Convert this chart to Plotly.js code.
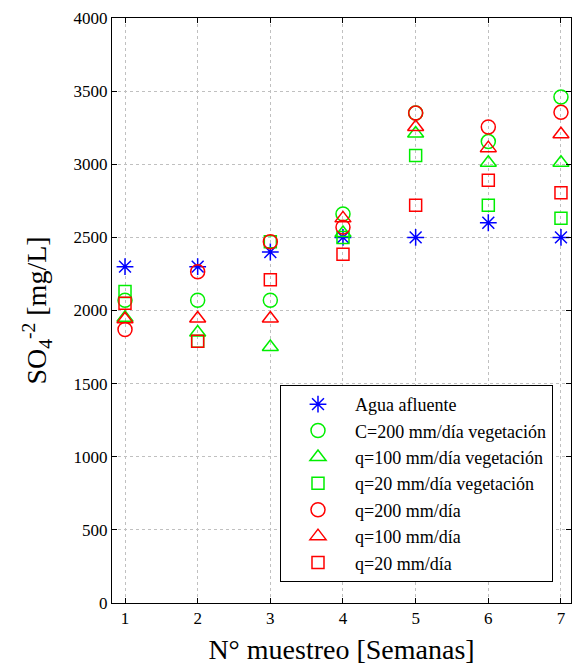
<!DOCTYPE html>
<html>
<head>
<meta charset="utf-8">
<script src="https://cdn.plot.ly/plotly-3.0.1.min.js"></script>
<style>html,body{margin:0;padding:0;background:#fff;}#chart{width:572px;height:665px;}</style>
</head>
<body>
<div id="chart"></div>
<script>
var weeks = [1, 2, 3, 4, 5, 6, 7];
var xTickLabels = ["1", "2", "3", "4", "5", "6", "7"];
var seriesNames = [
  "Agua afluente",
  "C=200 mm/día vegetación",
  "q=100 mm/día vegetación",
  "q=20 mm/día vegetación",
  "q=200 mm/día",
  "q=100 mm/día",
  "q=20 mm/día"
];
var aguaAfluente = [2300, 2300, 2400, 2500, 2500, 2600, 2500];
var c200Veg = [2070, 2070, 2070, 2660, 3350, 3155, 3460];
var q100Veg = [1950, 1850, 1750, 2530, 3210, 3010, 3010];
var q20Veg = [2130, 1790, 2470, 2500, 3060, 2720, 2630];
var q200 = [1870, 2265, 2470, 2570, 3350, 3255, 3355];
var q100 = [1940, 1945, 1945, 2630, 3255, 3110, 3205];
var q20 = [2050, 1790, 2210, 2385, 2720, 2890, 2805];

var seriesValues = [aguaAfluente, c200Veg, q100Veg, q20Veg, q200, q100, q20];
var symbols = ["asterisk-open", "circle-open", "triangle-up-open", "square-open", "circle-open", "triangle-up-open", "square-open"];
var colors = ["#0000ff", "#00ee00", "#00ee00", "#00ee00", "#ff0000", "#ff0000", "#ff0000"];
var sizes = [14, 14, 14, 12, 14, 14, 12];

var serif = "Liberation Serif";

var traces = seriesValues.map(function (vals, i) {
  return {
    x: weeks,
    y: vals,
    name: seriesNames[i],
    type: "scatter",
    mode: "markers",
    marker: {
      symbol: symbols[i],
      size: sizes[i],
      color: colors[i],
      line: {color: colors[i], width: 1.5}
    }
  };
});

var layout = {
  width: 572,
  height: 665,
  margin: {l: 112, r: 1, t: 18, b: 62},
  paper_bgcolor: "#ffffff",
  plot_bgcolor: "#ffffff",
  font: {family: serif, color: "#000", size: 16},
  showlegend: true,
  xaxis: {
    range: [0.821, 7.138],
    tickmode: "array",
    tickvals: weeks,
    ticktext: xTickLabels,
    ticks: "inside",
    ticklen: 5,
    tickcolor: "#000",
    showline: true,
    linecolor: "#000",
    linewidth: 1,
    mirror: "allticks",
    showgrid: true,
    gridcolor: "#c0c0c0",
    griddash: "dot",
    gridwidth: 1,
    zeroline: false,
    tickfont: {family: serif, size: 17, color: "#000"},
    title: {text: "N° muestreo [Semanas]", font: {family: serif, size: 28, color: "#000"}, standoff: 12}
  },
  yaxis: {
    range: [0, 4000],
    tickmode: "linear",
    tick0: 0,
    dtick: 500,
    ticks: "inside",
    ticklen: 5,
    tickcolor: "#000",
    showline: true,
    linecolor: "#000",
    linewidth: 1,
    mirror: "allticks",
    showgrid: true,
    gridcolor: "#c0c0c0",
    griddash: "dot",
    gridwidth: 1,
    zeroline: false,
    tickfont: {family: serif, size: 17, color: "#000"},
    title: {text: "SO<sub>4</sub><sup>-2</sup> [mg/L]", font: {family: serif, size: 28, color: "#000"}, standoff: 18}
  },
  legend: {
    x: 0.366,
    xanchor: "left",
    y: 0.036,
    yanchor: "bottom",
    bgcolor: "#ffffff",
    bordercolor: "#000",
    borderwidth: 1,
    font: {family: serif, size: 18, color: "#000"},
    itemwidth: 64,
    tracegroupgap: 0
  }
};

Plotly.newPlot("chart", traces, layout, {displayModeBar: false, staticPlot: true});
</script>
</body>
</html>
